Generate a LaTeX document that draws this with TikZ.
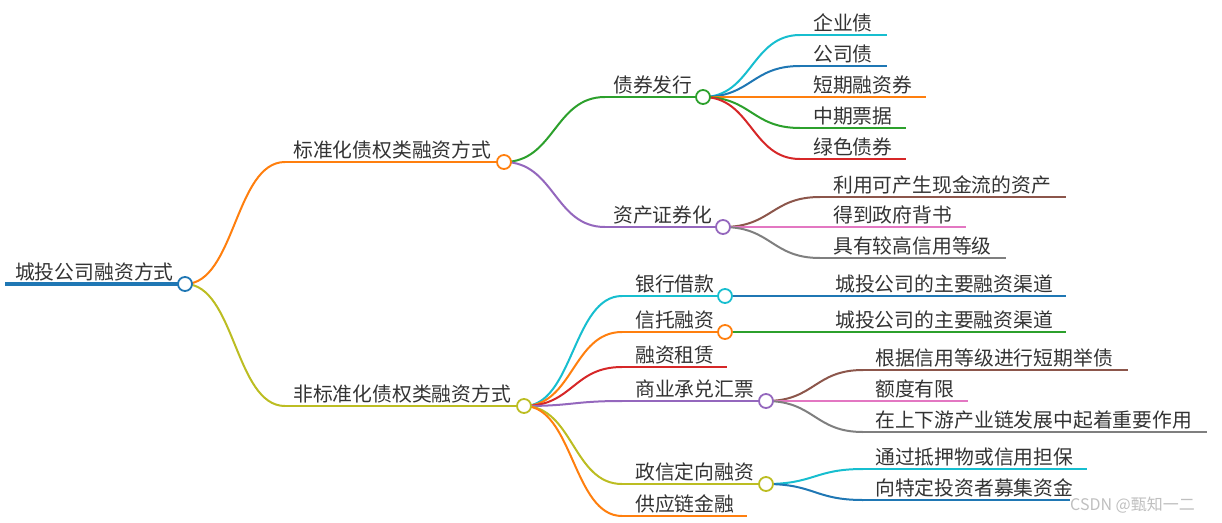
\documentclass[tikz,border=0pt]{standalone}
\usepackage{fontspec}
\setmainfont{Noto Sans CJK SC}
\usetikzlibrary{calc}
\definecolor{cBlue}{HTML}{1F77B4}
\definecolor{cOrange}{HTML}{FF7F0E}
\definecolor{cGreen}{HTML}{2CA02C}
\definecolor{cRed}{HTML}{D62728}
\definecolor{cPurple}{HTML}{9467BD}
\definecolor{cBrown}{HTML}{8C564B}
\definecolor{cPink}{HTML}{E377C2}
\definecolor{cGray}{HTML}{7F7F7F}
\definecolor{cOlive}{HTML}{BCBD22}
\definecolor{cCyan}{HTML}{17BECF}
\definecolor{txt}{HTML}{333333}
\tikzset{
  mm/.style={line width=2pt, to path={let \p1=(\tikztostart), \p2=(\tikztotarget) in
     .. controls ({(\x1+\x2)/2},\y1) and ({(\x1+\x2)/2},\y2) .. (\tikztotarget)}},
  hl/.style={line width=2pt},
  dot/.style={circle, draw=#1, line width=1.8pt, fill=white, minimum size=14pt, inner sep=0pt},
  lbl/.style={anchor=base west, inner sep=0pt, text=txt, font=\fontsize{19.8pt}{20pt}\selectfont},
}
\begin{document}
\begin{tikzpicture}[x=1pt,y=-1pt]
\useasboundingbox (0,0) rectangle (1222,522);
% coordinates of circles
\coordinate (R) at (185,284);
\coordinate (B1) at (504,162);
\coordinate (B11) at (703,97);
\coordinate (B12) at (723,227);
\coordinate (B2) at (524,406);
\coordinate (C1) at (725,296);
\coordinate (C2) at (725,332);
\coordinate (C4) at (766,401);
\coordinate (C5) at (766,484);
% root
\coordinate (r0) at (5,284);
\draw[cBlue, line width=4pt] (r0) -- (R);
\node[lbl] (tR) at (15,279) {城投公司融资方式};
% level 1
\coordinate (h1) at (285,162);
\draw[cOrange, mm] (R) to (h1); \draw[cOrange,hl] (h1) -- (B1);
\node[lbl] (tB1) at (293,157) {标准化债权类融资方式};
\coordinate (h2) at (285,406);
\draw[cOlive, mm] (R) to (h2); \draw[cOlive,hl] (h2) -- (B2);
\node[lbl] (tB2) at (293,401) {非标准化债权类融资方式};
% B1 children
\coordinate (h11) at (605,97);
\draw[cGreen, mm] (B1) to (h11); \draw[cGreen,hl] (h11) -- (B11);
\node[lbl] (tB11) at (613,92) {债券发行};
\coordinate (h12) at (605,227);
\draw[cPurple, mm] (B1) to (h12); \draw[cPurple,hl] (h12) -- (B12);
\node[lbl] (tB12) at (613,222) {资产证券化};
% B11 leaves
\foreach \y/\e/\c/\t [count=\i] in {35/887/cCyan/企业债, 66/887/cBlue/公司债, 97/926/cOrange/短期融资券, 128/906/cGreen/中期票据, 159/906/cRed/绿色债券}{
  \coordinate (a\i) at (800,\y); \coordinate (ae\i) at (\e,\y);
  \draw[\c, mm] (B11) to (a\i); \draw[\c,hl] (a\i) -- (ae\i);
  \node[lbl] (ta\i) at (813,\y-5) {\t};
}
% B12 leaves
\foreach \y/\e/\c/\t [count=\i] in {197/1066/cBrown/利用可产生现金流的资产, 227/966/cPink/得到政府背书, 258/1006/cGray/具有较高信用等级}{
  \coordinate (b\i) at (820,\y); \coordinate (be\i) at (\e,\y);
  \draw[\c, mm] (B12) to (b\i); \draw[\c,hl] (b\i) -- (be\i);
  \node[lbl] (tb\i) at (833,\y-5) {\t};
}
% B2 children
\coordinate (k1) at (622,296);
\draw[cCyan, mm] (B2) to (k1); \draw[cCyan,hl] (k1) -- (C1);
\node[lbl] (tC1) at (635,291) {银行借款};
\coordinate (k2) at (622,332);
\draw[cOrange, mm] (B2) to (k2); \draw[cOrange,hl] (k2) -- (C2);
\node[lbl] (tC2) at (635,327) {信托融资};
\coordinate (k3) at (622,367); \coordinate (ke3) at (727,367);
\draw[cRed, mm] (B2) to (k3); \draw[cRed,hl] (k3) -- (ke3);
\node[lbl] (tC3) at (635,362) {融资租赁};
\coordinate (k4) at (622,401);
\draw[cPurple, mm] (B2) to (k4); \draw[cPurple,hl] (k4) -- (C4);
\node[lbl] (tC4) at (635,396) {商业承兑汇票};
\coordinate (k5) at (622,484);
\draw[cOlive, mm] (B2) to (k5); \draw[cOlive,hl] (k5) -- (C5);
\node[lbl] (tC5) at (635,479) {政信定向融资};
\coordinate (k6) at (622,516); \coordinate (ke6) at (747,516);
\draw[cOrange, mm] (B2) to (k6); \draw[cOrange,hl] (k6) -- (ke6);
\node[lbl] (tC6) at (635,511) {供应链金融};
% C1, C2 leaves
\coordinate (d1) at (1066,296);
\draw[cBlue,hl] (C1) -- (d1);
\node[lbl] (td1) at (835,291) {城投公司的主要融资渠道};
\coordinate (d2) at (1066,332);
\draw[cGreen,hl] (C2) -- (d2);
\node[lbl] (td2) at (835,327) {城投公司的主要融资渠道};
% C4 leaves
\foreach \y/\e/\c/\t [count=\i] in {370/1128/cBrown/根据信用等级进行短期举债, 401/968/cPink/额度有限, 432/1207/cGray/在上下游产业链发展中起着重要作用}{
  \coordinate (f\i) at (863,\y); \coordinate (fe\i) at (\e,\y);
  \draw[\c, mm] (C4) to (f\i); \draw[\c,hl] (f\i) -- (fe\i);
  \node[lbl] (tf\i) at (875,\y-5) {\t};
}
% C5 leaves
\foreach \y/\e/\c/\t [count=\i] in {469/1087/cCyan/通过抵押物或信用担保, 500/1070/cBlue/向特定投资者募集资金}{
  \coordinate (g\i) at (863,\y); \coordinate (ge\i) at (\e,\y);
  \draw[\c, mm] (C5) to (g\i); \draw[\c,hl] (g\i) -- (ge\i);
  \node[lbl] (tg\i) at (875,\y-5) {\t};
}
% circles
\node[dot=cBlue] (dR) at (R) {};
\node[dot=cOrange] (dB1) at (B1) {};
\node[dot=cOlive] (dB2) at (B2) {};
\node[dot=cGreen] (dB11) at (B11) {};
\node[dot=cPurple] (dB12) at (B12) {};
\node[dot=cCyan] (dC1) at (C1) {};
\node[dot=cOrange] (dC2) at (C2) {};
\node[dot=cPurple] (dC4) at (C4) {};
\node[dot=cOlive] (dC5) at (C5) {};
% watermark
\node[anchor=base west, inner sep=0pt, text=black!25, font=\fontsize{16pt}{16pt}\selectfont] (wm) at (1070,510) {CSDN @甄知一二};
\end{tikzpicture}
\end{document}
